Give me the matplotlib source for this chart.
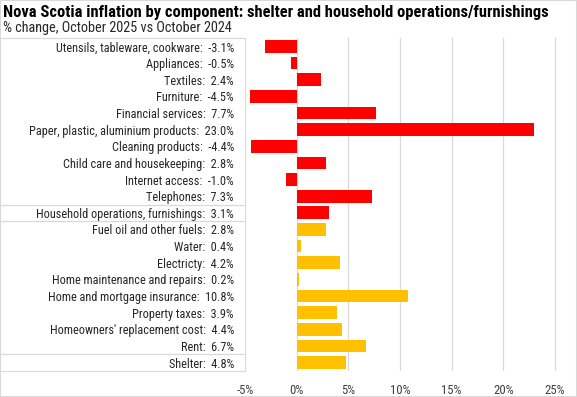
import matplotlib
matplotlib.use("Agg")
import matplotlib.pyplot as plt
from matplotlib.lines import Line2D
from matplotlib.patches import Rectangle
from matplotlib.transforms import blended_transform_factory

plt.rcParams['font.family'] = ['Roboto Condensed', 'DejaVu Sans']

# Components, top to bottom
categories = [
    "Utensils, tableware, cookware", "Appliances", "Textiles", "Furniture",
    "Financial services", "Paper, plastic, aluminium products", "Cleaning products",
    "Child care and housekeeping", "Internet access", "Telephones",
    "Household operations, furnishings",
    "Fuel oil and other fuels", "Water", "Electricty", "Home maintenance and repairs",
    "Home and mortgage insurance", "Property taxes", "Homeowners' replacement cost",
    "Rent", "Shelter",
]
values = [-3.1, -0.5, 2.4, -4.5, 7.7, 23.0, -4.4, 2.8, -1.0, 7.3, 3.1,
          2.8, 0.4, 4.2, 0.2, 10.8, 3.9, 4.4, 6.7, 4.8]
groups = ["household"] * 11 + ["shelter"] * 9
xticks = [-5, 0, 5, 10, 15, 20, 25]

colors = {"household": "#FF0000", "shelter": "#FFC000"}
grid_col = "#D9D9D9"

fig = plt.figure(figsize=(5.77, 3.97), dpi=100)
W, H = 577, 397
# axes placed in pixels: left 245, right 558, top 38, bottom 371
ax = fig.add_axes([245 / W, 1 - 371 / H, (558 - 245) / W, (371 - 38) / H])

ypos = list(range(len(categories)))
ax.barh(ypos, values, height=0.76, color=[colors[g] for g in groups], zorder=2)

ax.set_ylim(len(categories) - 0.5, -0.5)
ax.set_xlim(-5, 25.3)
ax.set_xticks(xticks)
ax.set_xticklabels([f"{t}%" for t in xticks], fontsize=9.2, color="#404040")
ax.set_yticks(ypos)
ax.set_yticklabels([f"{c}:  {v:.1f}%" for c, v in zip(categories, values)],
                   fontsize=8.8, color="#262626")
ax.tick_params(axis="y", length=0, pad=8)
ax.tick_params(axis="x", length=0, pad=9)
ax.xaxis.grid(True, color=grid_col, linewidth=0.9, zorder=0)
for s in ax.spines.values():
    s.set_visible(False)

# table-style box around the labels
tr = blended_transform_factory(fig.transFigure, ax.transData)
x1 = 245 / W
for yb in [-0.5, 9.5, 10.5, 18.5, 19.5]:
    ax.add_line(Line2D([0, x1], [yb, yb], transform=tr, color=grid_col,
                       linewidth=0.9, clip_on=False))

fig.text(3 / W, 1 - 12 / H, "Nova Scotia inflation by component: shelter and household operations/furnishings",
         fontsize=11.9, fontweight="bold", va="center", ha="left", color="black")
fig.text(3 / W, 1 - 28 / H, "% change, October 2025 vs October 2024",
         fontsize=10.3, va="center", ha="left", color="#262626")

fig.patches.append(Rectangle((0, 0), 1, 1, transform=fig.transFigure, fill=False,
                             edgecolor=grid_col, linewidth=1.5))

fig.savefig("out.png", dpi=100)
